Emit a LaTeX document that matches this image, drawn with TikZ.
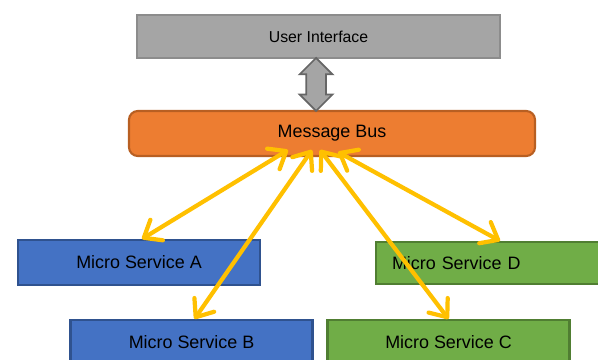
\documentclass[tikz,border=0pt]{standalone}
\usepackage{fontspec}
\setmainfont{Liberation Sans}
\usetikzlibrary{arrows.meta,shapes.arrows}

\definecolor{uigray}{HTML}{A5A5A5}
\definecolor{uiline}{HTML}{8C8C8C}
\definecolor{busorange}{HTML}{ED7D31}
\definecolor{busline}{HTML}{B85F22}
\definecolor{svcblue}{HTML}{4472C4}
\definecolor{svcblueline}{HTML}{2F528F}
\definecolor{svcgreen}{HTML}{70AD47}
\definecolor{svcgreenline}{HTML}{507E32}
\definecolor{msgyellow}{HTML}{FFC000}

\begin{document}
\begin{tikzpicture}[
  box/.style={draw,line width=1.2pt,minimum height=9mm,inner sep=0pt,
    font=\fontsize{10.2}{12}\selectfont},
  bluebox/.style={box,fill=svcblue,draw=svcblueline,minimum width=48.4mm},
  greenbox/.style={box,fill=svcgreen,draw=svcgreenline,minimum width=48.4mm},
  message/.style={msgyellow,line width=2.4pt,
    {Straight Barb[length=3mm,width=4.8mm,round]}-{Straight Barb[length=3mm,width=4.8mm,round]}}
]
  \useasboundingbox (0,0) rectangle (11.96,7.2);

  % top layers
  \node[box,fill=uigray,draw=uiline,minimum width=72.6mm,minimum height=8.6mm,
    font=\fontsize{9}{11}\selectfont] (ui) at (6.37,6.47) {User Interface};
  \node[box,fill=busorange,draw=busline,rounded corners=5pt,minimum width=81.2mm]
    (bus) at (6.64,4.53) {Message Bus};
  \node[double arrow,rotate=90,fill=uigray,draw=gray!80!black,line width=1pt,
    minimum height=10.6mm,inner xsep=0pt,inner ysep=1.8mm,
    double arrow head extend=1.3mm] (link) at (6.32,5.51) {};

  % services
  \node[bluebox] (svcA) at (2.78,1.95) {Micro Service A};
  \node[bluebox] (svcB) at (3.83,0.35) {Micro Service B};
  \node[greenbox] (svcC) at (8.97,0.35) {Micro Service C};
  \node[greenbox,minimum height=8.4mm,text width=43.2mm,align=left,inner xsep=3.2mm]
    (svcD) at (10.0,1.94) {Micro Service D};

  % bus taps
  \coordinate (tapA) at (5.76,4.20);
  \coordinate (tapB) at (6.24,4.20);
  \coordinate (tapC) at (6.40,4.20);
  \coordinate (tapD) at (6.76,4.16);

  \draw[message] (tapA) -- ([xshift=0.06cm]svcA.north);
  \draw[message] (tapB) -- ([xshift=0.06cm]svcB.north);
  \draw[message] (tapC) -- (svcC.north);
  \draw[message] (tapD) -- (svcD.north);
\end{tikzpicture}
\end{document}
